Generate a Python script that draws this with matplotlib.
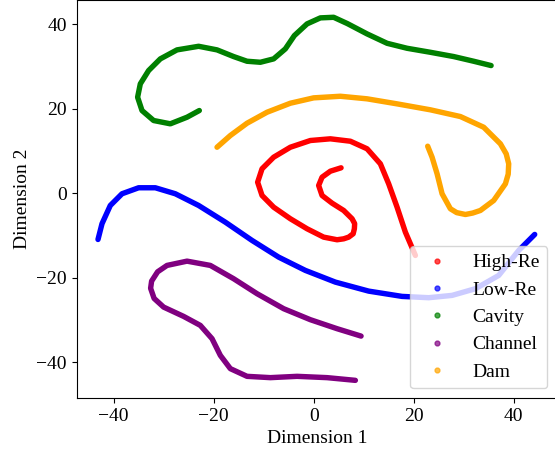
import numpy as np
import matplotlib
matplotlib.use("Agg")
import matplotlib.pyplot as plt
from matplotlib.lines import Line2D

plt.rcParams['font.family'] = ['Liberation Serif', 'DejaVu Serif']
plt.rcParams['font.size'] = 14

# traced curves (Dimension 1, Dimension 2)
high_re_x = [5.48, 3.34, 1.68, 1.0, 1.68, 3.68, 6.0, 7.68, 8.2, 8.14, 7.9, 7.0, 6.0, 4.68,
             2.0, -1.32, -4.66, -8.0, -10.32, -11.2, -10.32, -8.0, -4.66, -0.66, 3.34, 7.34,
             10.68, 13.34, 15.0, 16.68, 18.34, 20.34]
high_re_y = [6.0, 5.2, 3.78, 1.82, -0.54, -2.36, -4.09, -6.05, -7.2, -8.42, -9.6, -10.40,
             -10.8, -11.02, -10.40, -8.42, -6.05, -3.31, -0.54, 2.60, 5.77, 8.51, 10.87, 12.46,
             12.86, 12.29, 10.50, 6.95, 2.22, -3.31, -9.22, -14.73]

low_re_x = [-43.12, -42.32, -40.66, -38.32, -35.0, -31.66, -27.66, -23.0, -17.66, -12.32,
            -7.0, -1.66, 4.34, 11.0, 17.68, 23.0, 27.68, 32.34, 37.0, 41.0, 44.2]
low_re_y = [-10.95, -7.23, -2.91, -0.14, 1.28, 1.28, -0.14, -2.91, -6.86, -11.18,
            -15.13, -18.27, -21.04, -23.17, -24.42, -24.73, -24.18, -22.60, -19.46, -13.55, -9.76]

cavity_x = [-22.86, -25.32, -28.66, -32.0, -34.32, -35.2, -34.66, -33.0, -30.66, -27.32,
            -23.0, -19.32, -16.0, -13.32, -10.66, -8.0, -5.66, -3.86, -1.32, 1.34, 4.0,
            6.74, 10.68, 14.68, 18.68, 23.34, 28.0, 32.0, 35.48]
cavity_y = [19.55, 17.97, 16.41, 17.19, 19.55, 22.70, 25.86, 29.01, 31.77, 33.90,
            34.75, 33.90, 32.32, 31.21, 30.97, 31.77, 34.14, 37.28, 40.05, 41.47, 41.61,
            40.12, 37.68, 35.46, 34.28, 33.33, 32.32, 31.21, 30.19]

channel_x = [9.48, 4.68, -0.66, -6.0, -11.32, -16.0, -20.66, -25.32, -29.32, -31.2, -32.4,
             -32.6, -31.9, -30.0, -26.0, -22.66, -20.32, -18.66, -16.66, -13.32, -8.66,
             -3.32, 2.68, 8.34]
channel_y = [-33.81, -32.06, -29.93, -27.33, -23.78, -20.24, -17.09, -16.08, -17.09, -18.6,
             -20.8, -22.5, -24.9, -26.95, -29.15, -31.28, -34.42, -38.37, -41.51, -43.33,
             -43.64, -43.33, -43.64, -44.28]

dam_x = [-19.32, -16.66, -13.32, -9.32, -4.66, 0.0, 5.34, 10.68, 16.68, 23.34, 29.34, 34.0,
         37.34, 38.5, 39.0, 38.9, 38.34, 36.0, 33.34, 31.8, 30.34, 28.6, 27.34, 25.68,
         24.68, 23.68, 22.8]
dam_y = [10.87, 13.64, 16.55, 19.15, 21.28, 22.55, 22.93, 22.32, 21.13, 19.72, 18.13, 15.60,
         11.68, 9.3, 6.95, 4.5, 2.22, -1.73, -4.09, -4.7, -5.04, -4.6, -3.69, -0.14,
         4.59, 8.51, 11.11]

labels = ['High-Re', 'Low-Re', 'Cavity', 'Channel', 'Dam']
colors = ['red', 'blue', 'green', 'purple', 'orange']
series = [(high_re_x, high_re_y), (low_re_x, low_re_y), (cavity_x, cavity_y),
          (channel_x, channel_y), (dam_x, dam_y)]

fig = plt.figure(figsize=(5.55, 4.53), dpi=100)
ax = fig.add_axes([0.138, 0.121, 0.866, 0.879])

for (xs, ys), c in zip(series, colors):
    ax.plot(xs, ys, color=c, lw=3.9, solid_capstyle='round', solid_joinstyle='round')

ax.set_xlim(-47.4, 48.7)
ax.set_ylim(-48.5, 45.7)
ax.set_xticks([-40, -20, 0, 20, 40])
ax.set_yticks([-40, -20, 0, 20, 40])
ax.set_xlabel("Dimension 1")
ax.set_ylabel("Dimension 2")

handles = [Line2D([], [], ls='none', marker='o', ms=3.5, color=c, alpha=0.7) for c in colors]
ax.legend(handles, labels, loc='lower right', fontsize=14)

fig.savefig("out.png", dpi=100)
